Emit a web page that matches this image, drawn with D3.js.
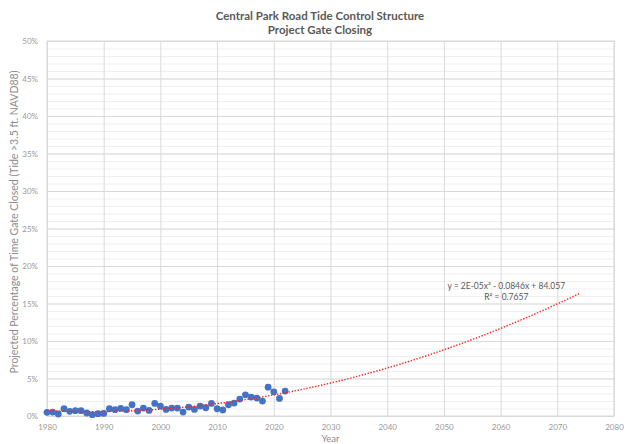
<!DOCTYPE html>
<html>
<head>
<meta charset="utf-8">
<script src="https://cdn.jsdelivr.net/npm/d3@7"></script>
<style>
  body { margin: 0; background: #fff; }
  svg text { font-family: Lato, "Open Sans", sans-serif; }
  .grid-major line { stroke: #d9d9d9; stroke-width: 1; }
  .grid-minor line { stroke: #efefef; stroke-width: 1; }
  .grid-major path, .grid-minor path { display: none; }
  .axis path, .axis line { display: none; }
  .axis text { fill: #999; font-size: 8px; }
</style>
</head>
<body>
<div id="chart"></div>
<script>
// observed years and gate closing percentages
var years = [1980, 1981, 1982, 1983, 1984, 1985, 1986, 1987, 1988, 1989,
             1990, 1991, 1992, 1993, 1994, 1995, 1996, 1997, 1998, 1999,
             2000, 2001, 2002, 2003, 2004, 2005, 2006, 2007, 2008, 2009,
             2010, 2011, 2012, 2013, 2014, 2015, 2016, 2017, 2018, 2019,
             2020, 2021, 2022];
var pctClosed = [0.49, 0.53, 0.27, 0.97, 0.62, 0.71, 0.71, 0.40, 0.18, 0.31,
                 0.35, 0.97, 0.84, 1.02, 0.84, 1.50, 0.66, 1.06, 0.75, 1.68,
                 1.33, 0.88, 1.06, 1.06, 0.53, 1.19, 0.88, 1.33, 1.10, 1.68,
                 0.97, 0.80, 1.50, 1.73, 2.26, 2.83, 2.52, 2.39, 1.99, 3.85,
                 3.23, 2.35, 3.32];

// trendline projection extends to this year
var trendEnd = 2074;

var xTicks = [1980, 1990, 2000, 2010, 2020, 2030, 2040, 2050, 2060, 2070, 2080];
var yTicks = [0, 5, 10, 15, 20, 25, 30, 35, 40, 45, 50];

var titleLines = ["Central Park Road Tide Control Structure", "Project Gate Closing"];
var eqLines = ["y = 2E-05x\u00b2 - 0.0846x + 84.057", "R\u00b2 = 0.7657"];

// -----------------------------------------------------------------------------

var W = 632, H = 444;
var margin = {top: 41, right: 18, bottom: 28, left: 47},
    width = W - margin.left - margin.right,
    height = H - margin.top - margin.bottom;

var svg = d3.select("#chart").append("svg")
    .attr("width", W)
    .attr("height", H);

var g = svg.append("g")
    .attr("transform", "translate(" + margin.left + "," + margin.top + ")");

var xScale = d3.scaleLinear().domain([1980, 2080]).range([0, width]);
var yScale = d3.scaleLinear().domain([0, 50]).range([height, 0]);

// minor gridlines every 1%
g.append("g")
    .attr("class", "grid-minor")
    .call(d3.axisLeft(yScale)
        .tickValues(d3.range(0, 51, 1))
        .tickSize(-width)
        .tickFormat(""));

g.append("g")
    .attr("class", "grid-major")
    .call(d3.axisLeft(yScale)
        .tickValues(yTicks)
        .tickSize(-width)
        .tickFormat(""));

g.append("g")
    .attr("class", "grid-major")
    .attr("transform", "translate(0," + height + ")")
    .call(d3.axisBottom(xScale)
        .tickValues(xTicks)
        .tickSize(-height)
        .tickFormat(""));

g.append("rect")
    .attr("width", width)
    .attr("height", height)
    .attr("fill", "none")
    .attr("stroke", "#d9d9d9");

g.append("g")
    .attr("class", "axis")
    .attr("transform", "translate(0," + height + ")")
    .call(d3.axisBottom(xScale).tickValues(xTicks).tickFormat(d3.format("d")).tickPadding(2));

g.append("g")
    .attr("class", "axis")
    .call(d3.axisLeft(yScale).tickValues(yTicks).tickFormat(function(d) { return d + "%"; }).tickPadding(3));

// quadratic least squares fit of the observed series (as the spreadsheet trendline)
function polyFit2(xs, ys) {
  var s = [0, 0, 0, 0, 0], t = [0, 0, 0];
  xs.forEach(function(x, i) {
    var p = 1;
    for (var k = 0; k < 5; k++) { s[k] += p; if (k < 3) t[k] += p * ys[i]; p *= x; }
  });
  var A = [[s[0], s[1], s[2], t[0]], [s[1], s[2], s[3], t[1]], [s[2], s[3], s[4], t[2]]];
  for (var c = 0; c < 3; c++) {
    for (var r = c + 1; r < 3; r++) {
      var f = A[r][c] / A[c][c];
      for (var k = c; k < 4; k++) A[r][k] -= f * A[c][k];
    }
  }
  var coef = [0, 0, 0];
  for (var r = 2; r >= 0; r--) {
    var v = A[r][3];
    for (var k = r + 1; k < 3; k++) v -= A[r][k] * coef[k];
    coef[r] = v / A[r][r];
  }
  return coef;
}

var t0 = years[0];
var coef = polyFit2(years.map(function(y) { return y - t0; }), pctClosed);
var trendYears = d3.range(years[0], trendEnd + 0.01, 0.5);

var line = d3.line()
    .x(function(d) { return xScale(d); })
    .y(function(d) { var t = d - t0; return yScale(coef[0] + coef[1] * t + coef[2] * t * t); });

g.selectAll(".dot")
    .data(years)
  .enter().append("circle")
    .attr("class", "dot")
    .attr("cx", function(d) { return xScale(d); })
    .attr("cy", function(d, i) { return yScale(pctClosed[i]); })
    .attr("r", 3.4)
    .attr("fill", "#4472c4");

g.append("path")
    .datum(trendYears)
    .attr("d", line)
    .attr("fill", "none")
    .attr("stroke", "#ff2020")
    .attr("stroke-width", 1.4)
    .attr("stroke-dasharray", "1.4,1.6");

g.selectAll(".eq")
    .data(eqLines)
  .enter().append("text")
    .attr("x", xScale(2061))
    .attr("y", function(d, i) { return 248 + i * 11; })
    .attr("text-anchor", "middle")
    .attr("fill", "#595959")
    .attr("font-size", "8.5px")
    .text(function(d) { return d; });

svg.selectAll(".title")
    .data(titleLines)
  .enter().append("text")
    .attr("x", 320)
    .attr("y", function(d, i) { return 20 + i * 14; })
    .attr("text-anchor", "middle")
    .attr("fill", "#595959")
    .attr("font-size", "11.5px")
    .attr("font-weight", "bold")
    .text(function(d) { return d; });

svg.append("text")
    .attr("x", margin.left + width / 2)
    .attr("y", 442)
    .attr("text-anchor", "middle")
    .attr("fill", "#8c8c8c")
    .attr("font-size", "9.5px")
    .text("Year");

svg.append("text")
    .attr("transform", "translate(18,222) rotate(-90)")
    .attr("text-anchor", "middle")
    .attr("fill", "#8c8c8c")
    .attr("font-size", "10.5px")
    .text("Projected Percentage of Time Gate Closed (Tide >3.5 ft. NAVD88)");
</script>
</body>
</html>
